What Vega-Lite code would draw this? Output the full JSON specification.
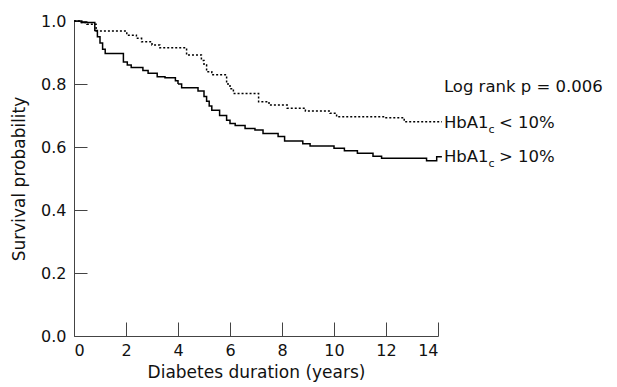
{
  "$schema": "https://vega.github.io/schema/vega-lite/v6.json",
  "width": 364,
  "height": 315,
  "autosize": {"type": "none"},
  "padding": {"left": 74, "top": 21, "right": 179, "bottom": 51},
  "background": "white",
  "config": {
    "view": {"stroke": null},
    "font": "DejaVu Sans",
    "axis": {"grid": false, "domainColor": "#444", "tickColor": "#444", "labelColor": "#111", "titleColor": "#111", "labelFont": "DejaVu Sans", "titleFont": "DejaVu Sans", "titleFontWeight": "normal", "labelFontSize": 16, "titleFontSize": 17}
  },
  "datasets": {
    "curves": [
      {"t": 0, "s": 1.0, "g": "high"},
      {"t": 0.3, "s": 0.995, "g": "high"},
      {"t": 0.8, "s": 0.97, "g": "high"},
      {"t": 0.9, "s": 0.95, "g": "high"},
      {"t": 1.0, "s": 0.93, "g": "high"},
      {"t": 1.1, "s": 0.91, "g": "high"},
      {"t": 1.2, "s": 0.897, "g": "high"},
      {"t": 1.9, "s": 0.87, "g": "high"},
      {"t": 2.05, "s": 0.86, "g": "high"},
      {"t": 2.2, "s": 0.852, "g": "high"},
      {"t": 2.65, "s": 0.843, "g": "high"},
      {"t": 2.85, "s": 0.834, "g": "high"},
      {"t": 3.2, "s": 0.823, "g": "high"},
      {"t": 3.5, "s": 0.82, "g": "high"},
      {"t": 3.9, "s": 0.81, "g": "high"},
      {"t": 4.0, "s": 0.8, "g": "high"},
      {"t": 4.14, "s": 0.788, "g": "high"},
      {"t": 4.77, "s": 0.778, "g": "high"},
      {"t": 5.0, "s": 0.76, "g": "high"},
      {"t": 5.1, "s": 0.745, "g": "high"},
      {"t": 5.2, "s": 0.73, "g": "high"},
      {"t": 5.3, "s": 0.717, "g": "high"},
      {"t": 5.6, "s": 0.7, "g": "high"},
      {"t": 5.87, "s": 0.685, "g": "high"},
      {"t": 6.0, "s": 0.675, "g": "high"},
      {"t": 6.2, "s": 0.668, "g": "high"},
      {"t": 6.58, "s": 0.659, "g": "high"},
      {"t": 6.96, "s": 0.654, "g": "high"},
      {"t": 7.27, "s": 0.643, "g": "high"},
      {"t": 7.85, "s": 0.633, "g": "high"},
      {"t": 8.1, "s": 0.619, "g": "high"},
      {"t": 8.8, "s": 0.61, "g": "high"},
      {"t": 9.08, "s": 0.603, "g": "high"},
      {"t": 10.0, "s": 0.596, "g": "high"},
      {"t": 10.4, "s": 0.588, "g": "high"},
      {"t": 10.9, "s": 0.58, "g": "high"},
      {"t": 11.5, "s": 0.571, "g": "high"},
      {"t": 11.83, "s": 0.564, "g": "high"},
      {"t": 13.56, "s": 0.556, "g": "high"},
      {"t": 13.95, "s": 0.569, "g": "high"},
      {"t": 14.15, "s": 0.569, "g": "high"},
      {"t": 0, "s": 1.0, "g": "low"},
      {"t": 0.2, "s": 0.995, "g": "low"},
      {"t": 0.5, "s": 0.99, "g": "low"},
      {"t": 0.85, "s": 0.968, "g": "low"},
      {"t": 2.03, "s": 0.955, "g": "low"},
      {"t": 2.4, "s": 0.945, "g": "low"},
      {"t": 2.6, "s": 0.934, "g": "low"},
      {"t": 3.0, "s": 0.924, "g": "low"},
      {"t": 3.3, "s": 0.915, "g": "low"},
      {"t": 4.33, "s": 0.892, "g": "low"},
      {"t": 4.9, "s": 0.875, "g": "low"},
      {"t": 5.0, "s": 0.86, "g": "low"},
      {"t": 5.1, "s": 0.839, "g": "low"},
      {"t": 5.3, "s": 0.829, "g": "low"},
      {"t": 5.87, "s": 0.8, "g": "low"},
      {"t": 6.0, "s": 0.785, "g": "low"},
      {"t": 6.13, "s": 0.77, "g": "low"},
      {"t": 7.1, "s": 0.744, "g": "low"},
      {"t": 7.5, "s": 0.733, "g": "low"},
      {"t": 8.2, "s": 0.723, "g": "low"},
      {"t": 8.9, "s": 0.714, "g": "low"},
      {"t": 9.85, "s": 0.707, "g": "low"},
      {"t": 10.1, "s": 0.696, "g": "low"},
      {"t": 12.0, "s": 0.693, "g": "low"},
      {"t": 12.7, "s": 0.68, "g": "low"},
      {"t": 14.15, "s": 0.68, "g": "low"}
    ],
    "labels": [
      {"t": 14.15, "s": 0.79, "text": "Log rank p = 0.006"},
      {"t": 14.15, "s": 0.677, "text": "HbA1"},
      {"t": 14.15, "s": 0.569, "text": "HbA1"}
    ],
    "subs": [
      {"t": 14.15, "s": 0.677, "text": "c"},
      {"t": 14.15, "s": 0.569, "text": "c"}
    ],
    "tails": [
      {"t": 14.15, "s": 0.677, "text": "< 10%"},
      {"t": 14.15, "s": 0.569, "text": "> 10%"}
    ]
  },
  "encoding": {
    "x": {"field": "t", "type": "quantitative", "scale": {"domain": [0, 14], "nice": false}, "axis": {"values": [0, 2, 4, 6, 8, 10, 12, 14], "title": "Diabetes duration (years)", "tickSize": -14, "labelPadding": 20, "titlePadding": 6}},
    "y": {"field": "s", "type": "quantitative", "scale": {"domain": [0, 1], "nice": false}, "axis": {"values": [0, 0.2, 0.4, 0.6, 0.8, 1.0], "format": ".1f", "title": "Survival probability", "tickSize": -13, "labelPadding": 21, "titlePadding": 12}}
  },
  "layer": [
    {
      "data": {"name": "curves"},
      "mark": {"type": "line", "interpolate": "step-after", "stroke": "black", "strokeWidth": 1.5, "clip": false},
      "encoding": {
        "detail": {"field": "g"},
        "strokeDash": {"field": "g", "type": "nominal", "scale": {"domain": ["high", "low"], "range": [[1, 0], [2, 2]]}, "legend": null}
      }
    },
    {
      "data": {"name": "labels"},
      "mark": {"type": "text", "align": "left", "baseline": "middle", "fontSize": 16.5, "dx": 2, "color": "#111"},
      "encoding": {"text": {"field": "text"}}
    },
    {
      "data": {"name": "subs"},
      "mark": {"type": "text", "align": "left", "baseline": "middle", "fontSize": 11, "dx": 46.5, "dy": 7, "color": "#111"},
      "encoding": {"text": {"field": "text"}}
    },
    {
      "data": {"name": "tails"},
      "mark": {"type": "text", "align": "left", "baseline": "middle", "fontSize": 16.5, "dx": 57, "color": "#111"},
      "encoding": {"text": {"field": "text"}}
    }
  ]
}
